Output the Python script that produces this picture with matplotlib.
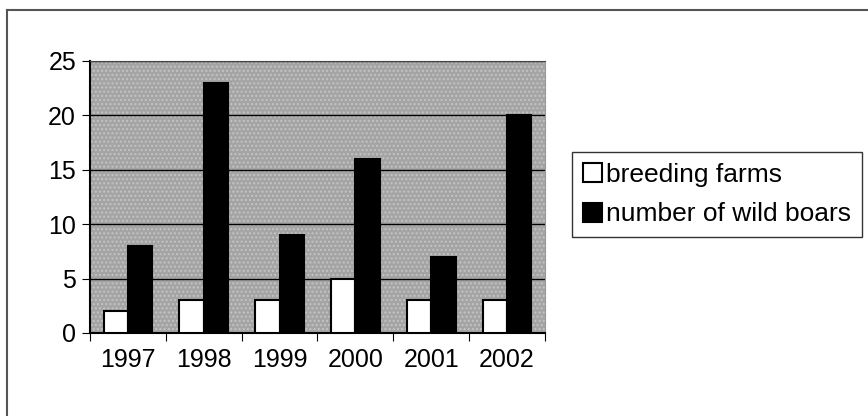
import numpy as np
import matplotlib.pyplot as plt
from matplotlib.patches import Patch
from matplotlib.lines import Line2D

years = ['1997', '1998', '1999', '2000', '2001', '2002']
breeding_farms = [2, 3, 3, 5, 3, 3]
wild_boars = [8, 23, 9, 16, 7, 20]

plt.rcParams['font.family'] = ['Liberation Sans', 'DejaVu Sans']
plt.rcParams['font.size'] = 18
plt.rcParams['hatch.linewidth'] = 1.0

W, H = 868, 416
fig = plt.figure(figsize=(W / 100, H / 100), dpi=100)
fig.patch.set_facecolor('white')

# chart area border (top and left edges)
fig.add_artist(Line2D([7 / W, 1], [1 - 10 / H, 1 - 10 / H], color='#555555', lw=1.5))
fig.add_artist(Line2D([7 / W, 7 / W], [0, 1 - 10 / H], color='#555555', lw=1.5))

ax = fig.add_axes([90 / W, (H - 333) / H, 455 / W, 272 / H])
# dotted grey fill for the plot area
ax.patch.set_facecolor('#a4a4a4')
ax.patch.set_edgecolor('#c4c4c4')
ax.patch.set_hatch('....')

x = np.arange(len(years))
bw = 0.32
ax.bar(x - bw / 2, breeding_farms, bw, color='white', edgecolor='black', lw=1.5, zorder=3)
ax.bar(x + bw / 2, wild_boars, bw, color='black', edgecolor='black', lw=1.5, zorder=3)

ax.set_xlim(-0.5, len(years) - 0.5)
ax.set_ylim(0, 25)
ax.set_yticks(range(0, 26, 5))
ax.yaxis.grid(True, color='black', lw=1)
ax.set_axisbelow(True)

# ticks between categories, labels at category centres
ax.set_xticks(np.arange(-0.5, len(years), 1))
ax.set_xticklabels([])
ax.set_xticks(x, minor=True)
ax.set_xticklabels(years, minor=True)
ax.tick_params(axis='x', which='major', direction='out', length=6, color='black')
ax.tick_params(axis='x', which='minor', length=0, pad=11)
ax.tick_params(axis='y', direction='out', length=6, pad=4)

for side in ['left', 'bottom']:
    ax.spines[side].set_color('black')
    ax.spines[side].set_linewidth(1.5)
ax.spines['top'].set_color('#444444')
ax.spines['right'].set_color('#999999')

handles = [Patch(facecolor='white', edgecolor='black', lw=1.5),
           Patch(facecolor='black', edgecolor='black', lw=1.5)]
leg = fig.legend(handles, ['breeding farms', 'number of wild boars'],
                 loc='upper left', bbox_to_anchor=(572 / W, 1 - 152 / H),
                 borderaxespad=0, frameon=True, fancybox=False,
                 handlelength=0.75, handleheight=0.75, handletextpad=0.15,
                 labelspacing=0.6, borderpad=0.4, fontsize=19)
leg.get_frame().set_edgecolor('black')
leg.get_frame().set_linewidth(1)

fig.savefig('out.png', dpi=100)
